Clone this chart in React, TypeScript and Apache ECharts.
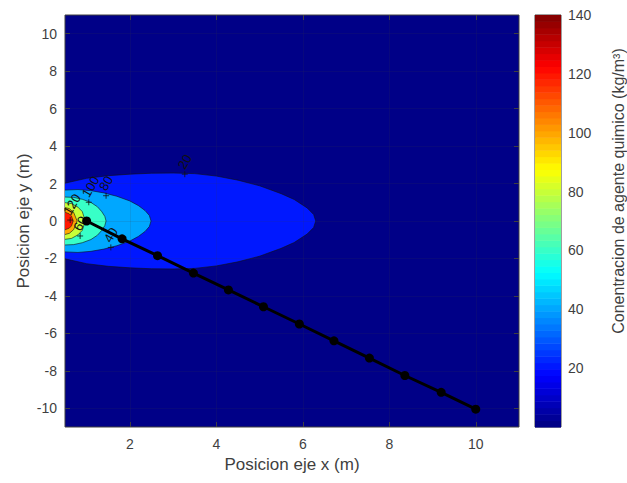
import React, { useEffect, useRef } from "react";
import * as echarts from "echarts";

// ---- data ----
const contourLevels = [20, 40, 60, 80, 100, 120];
// boundary of each filled level: [x, half-width in y] (symmetric about y = 0)
const contour20 = [[0.5, 2.02], [1.0, 2.28], [1.5, 2.42], [2.0, 2.5], [2.5, 2.55], [3.0, 2.56], [3.5, 2.53], [4.0, 2.4], [4.5, 2.18], [5.0, 1.88], [5.5, 1.46], [5.8, 1.15], [6.1, 0.7], [6.25, 0.35], [6.3, 0]];
const contour40 = [[0.5, 1.65], [0.8, 1.68], [1.1, 1.62], [1.4, 1.5], [1.7, 1.32], [2.0, 1.07], [2.2, 0.82], [2.35, 0.56], [2.45, 0.3], [2.49, 0]];
const contour60 = [[0.5, 1.28], [0.7, 1.26], [0.9, 1.16], [1.1, 0.99], [1.25, 0.76], [1.35, 0.5], [1.42, 0.25], [1.45, 0]];
const contour80 = [[0.5, 0.98], [0.65, 0.93], [0.8, 0.74], [0.9, 0.5], [0.97, 0]];
const contour100 = [[0.5, 0.72], [0.6, 0.66], [0.7, 0.46], [0.78, 0]];
const contour120 = [[0.5, 0.47], [0.6, 0.38], [0.65, 0.26], [0.69, 0]];
const contourShapes = [contour20, contour40, contour60, contour80, contour100, contour120];

const pathX = [1.0, 1.82, 2.64, 3.47, 4.28, 5.09, 5.92, 6.72, 7.54, 8.36, 9.2, 10.0];
const pathY = [0.0, -0.95, -1.85, -2.78, -3.68, -4.58, -5.5, -6.4, -7.32, -8.25, -9.15, -10.05];

const labelX = [3.27, 1.56, 0.85, 1.45, 1.05, 0.62];
const labelY = [2.5, -1.41, -0.8, 1.35, 1.0, 0.05];
const labelText = ["20", "40", "60", "80", "100", "120"];

const xTicks = [2, 4, 6, 8, 10];
const yTicks = [-10, -8, -6, -4, -2, 0, 2, 4, 6, 8, 10];
const cbarTicks = [20, 40, 60, 80, 100, 120, 140];
const cbarMax = 140;

// ---- colormap (jet, 64 steps) ----
const clamp = (v: number) => Math.max(0, Math.min(1, v));
function jet(t: number) {
  const r = clamp(1.5 - Math.abs(4 * t - 3));
  const g = clamp(1.5 - Math.abs(4 * t - 2));
  const b = clamp(1.5 - Math.abs(4 * t - 1));
  return `rgb(${Math.round(r * 255)},${Math.round(g * 255)},${Math.round(b * 255)})`;
}
const N = 64;
const jetIndexColor = (i: number) => jet((i + 0.5) / N);
const valueColor = (v: number) => jetIndexColor(Math.min(N - 1, Math.floor((v / cbarMax) * N)));

const FONT = "Liberation Sans, Arial, Helvetica, sans-serif";
const AXIS = "#404040";
const TXT = "#3f3f3f";
const GRIDLINE = "rgba(60,60,60,0.22)";

export default function App() {
  const ref = useRef<HTMLDivElement>(null);
  useEffect(() => {
    document.body.style.margin = "0";
    const chart = echarts.init(ref.current!, null, { renderer: "svg" });
    const levelData = contourLevels.map((_, i) => [i]);
    const cbarData = Array.from({ length: N }, (_, i) => [i]);
    const gridMarks = xTicks.map((v) => ({ xAxis: v })).concat(yTicks.map((v) => ({ yAxis: v })) as any);

    const noLine = { show: false, onZero: false };
    const option: any = {
      animation: false,
      textStyle: { fontFamily: FONT },
      grid: [
        { left: 65, top: 15, width: 454, height: 412, show: true, borderColor: AXIS, borderWidth: 1, backgroundColor: valueColor(0) },
        { left: 535, top: 15, width: 32, height: 412, show: true, borderColor: AXIS, borderWidth: 1 },
      ],
      xAxis: [
        {
          type: "value", gridIndex: 0, min: 0.5, max: 11, position: "bottom",
          name: "Posicion eje x (m)", nameLocation: "middle", nameGap: 26,
          nameTextStyle: { fontSize: 17, color: TXT, fontFamily: FONT },
          axisLine: noLine,
          axisTick: { inside: true, length: 5, lineStyle: { color: AXIS }, customValues: xTicks },
          axisLabel: { fontSize: 14, color: TXT, fontFamily: FONT, margin: 10, customValues: xTicks },
          splitLine: { show: false },
        },
        {
          type: "value", gridIndex: 0, min: 0.5, max: 11, position: "top",
          axisLine: noLine,
          axisTick: { inside: true, length: 5, lineStyle: { color: AXIS }, customValues: xTicks },
          axisLabel: { show: false },
          splitLine: { show: false },
        },
        { type: "value", gridIndex: 1, min: 0, max: 1, show: false, axisLine: noLine },
      ],
      yAxis: [
        {
          type: "value", gridIndex: 0, min: -11, max: 11, position: "left",
          name: "Posicion eje y (m)", nameLocation: "middle", nameGap: 33, nameMoveOverlap: false,
          nameTextStyle: { fontSize: 17, color: TXT, fontFamily: FONT },
          axisLine: noLine,
          axisTick: { inside: true, length: 5, lineStyle: { color: AXIS }, customValues: yTicks },
          axisLabel: { fontSize: 14, color: TXT, fontFamily: FONT, margin: 8, customValues: yTicks },
          splitLine: { show: false },
        },
        {
          type: "value", gridIndex: 0, min: -11, max: 11, position: "right",
          axisLine: noLine,
          axisTick: { inside: true, length: 5, lineStyle: { color: AXIS }, customValues: yTicks },
          axisLabel: { show: false },
          splitLine: { show: false },
        },
        {
          type: "value", gridIndex: 1, min: 0, max: cbarMax, position: "right",
          name: "Conentracion de agente quimico (kg/m³)", nameLocation: "middle", nameGap: 49, nameRotate: 90,
          nameTextStyle: { fontSize: 16, color: TXT, fontFamily: FONT, padding: [0, 0, 0, 60] },
          axisLine: noLine,
          axisTick: { inside: true, length: 4, lineStyle: { color: AXIS }, customValues: cbarTicks },
          axisLabel: { fontSize: 14, color: TXT, fontFamily: FONT, margin: 7, customValues: cbarTicks },
          splitLine: { show: false },
        },
      ],
      series: [
        {
          type: "custom", xAxisIndex: 0, yAxisIndex: 0, z: 2, clip: true,
          data: levelData,
          renderItem: (params: any, api: any) => {
            const i = api.value(0);
            const shape = contourShapes[i];
            const upper = shape.map(([x, h]) => api.coord([x, h]));
            const lower = shape.slice().reverse().map(([x, h]) => api.coord([x, -h]));
            const pts = upper.concat(lower.slice(1));
            return {
              type: "group",
              children: [
                { type: "polygon", shape: { points: pts }, style: { fill: valueColor(contourLevels[i]), stroke: "none" } },
                { type: "polyline", shape: { points: pts }, style: { fill: "none", stroke: "#111", lineWidth: 0.6 } },
              ],
            };
          },
        },
        {
          type: "custom", xAxisIndex: 0, yAxisIndex: 0, z: 3,
          data: labelX.map((x, i) => [x, labelY[i], i]),
          renderItem: (params: any, api: any) => {
            const p = api.coord([api.value(0), api.value(1)]);
            const i = api.value(2);
            return {
              type: "group",
              children: [
                { type: "line", shape: { x1: p[0] - 3, y1: p[1], x2: p[0] + 3, y2: p[1] }, style: { stroke: "#111", lineWidth: 0.8 } },
                { type: "line", shape: { x1: p[0], y1: p[1] - 3, x2: p[0], y2: p[1] + 3 }, style: { stroke: "#111", lineWidth: 0.8 } },
                {
                  type: "text", x: p[0] + 2, y: p[1] - 3, rotation: Math.PI / 3,
                  style: { text: labelText[i], fill: "#111", fontSize: 13, fontFamily: FONT, align: "left", verticalAlign: "bottom" },
                },
              ],
            };
          },
        },
        {
          type: "line", xAxisIndex: 0, yAxisIndex: 0, z: 5,
          data: pathX.map((x, i) => [x, pathY[i]]),
          lineStyle: { color: "#000", width: 3 },
          itemStyle: { color: "#000" },
          symbol: "circle", symbolSize: 9,
          markLine: {
            silent: true, symbol: "none", label: { show: false },
            lineStyle: { color: GRIDLINE, width: 0.6, type: "solid" },
            data: gridMarks,
          },
        },
        {
          type: "custom", xAxisIndex: 2, yAxisIndex: 2, z: 2,
          data: cbarData,
          renderItem: (params: any, api: any) => {
            const i = api.value(0);
            const p0 = api.coord([0, (i * cbarMax) / N]);
            const p1 = api.coord([1, ((i + 1) * cbarMax) / N]);
            return {
              type: "rect",
              shape: { x: p0[0], y: p1[1], width: p1[0] - p0[0], height: p0[1] - p1[1] + 0.5 },
              style: { fill: jetIndexColor(i) },
            };
          },
        },
      ],
    };
    chart.setOption(option);
    return () => chart.dispose();
  }, []);
  return <div ref={ref} style={{ width: 627, height: 483 }} />;
}
